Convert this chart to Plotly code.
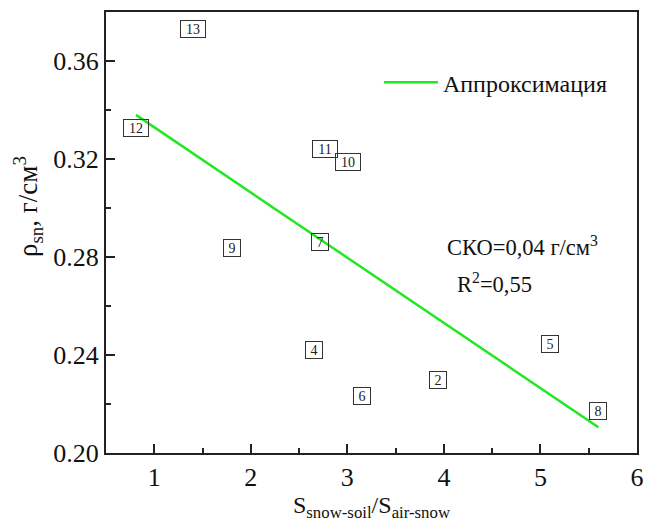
import plotly.graph_objects as go

# Data points (x = S_snow-soil/S_air-snow, y = rho_sn), labelled by number
point_labels = ["2", "4", "5", "6", "7", "8", "9", "10", "11", "12", "13"]
x_vals = [3.94, 2.65, 5.10, 3.15, 2.72, 5.60, 1.81, 3.01, 2.77, 0.81, 1.40]
y_vals = [0.2298, 0.2422, 0.2445, 0.2233, 0.2863, 0.2173, 0.2835, 0.3186, 0.3241, 0.3328, 0.3732]

# Linear approximation endpoints
fit_x = [0.81, 5.60]
fit_y = [0.338, 0.2105]

x_ticks = [1, 2, 3, 4, 5, 6]
y_ticks = [0.20, 0.24, 0.28, 0.32, 0.36]

FONT = "Liberation Serif"

fig = go.Figure()

fig.add_trace(go.Scatter(
    x=fit_x, y=fit_y, mode="lines",
    line=dict(color="#22e822", width=2.5),
    name="Аппроксимация", showlegend=True,
))

for lab, xv, yv in zip(point_labels, x_vals, y_vals):
    fig.add_annotation(
        x=xv, y=yv, xref="x", yref="y", text=lab, showarrow=False,
        font=dict(family=FONT, size=14, color="#222"),
        bordercolor="#333", borderwidth=1, borderpad=1,
        width=14 if len(lab) == 1 else 22, height=14, align="center",
        bgcolor="rgba(255,255,255,0)",
    )

fig.add_annotation(
    x=0.638, y=0.47, xref="paper", yref="paper", xanchor="left", yanchor="middle",
    text="СКО=0,04 г/см<sup>3</sup>", showarrow=False,
    font=dict(family=FONT, size=22.5, color="#111"),
)
fig.add_annotation(
    x=0.657, y=0.386, xref="paper", yref="paper", xanchor="left", yanchor="middle",
    text="R<sup>2</sup>=0,55", showarrow=False,
    font=dict(family=FONT, size=22.5, color="#111"),
)
# y-axis title
fig.add_annotation(
    x=-0.147, y=0.56, xref="paper", yref="paper", xanchor="center", yanchor="middle",
    text="ρ<sub>sn</sub>, г/см<sup>3</sup>", showarrow=False, textangle=-90,
    font=dict(family=FONT, size=27, color="#111"),
)

axis_common = dict(
    showline=True, linecolor="#222", linewidth=2, mirror=True,
    ticks="inside", ticklen=9, tickwidth=1.5, tickcolor="#222",
    showgrid=False, zeroline=False,
    tickfont=dict(family=FONT, size=26, color="#111"),
)

fig.update_xaxes(
    range=[0.5, 6], tickvals=x_ticks, ticktext=[str(v) for v in x_ticks],
    minor=dict(ticks="inside", ticklen=5, tickwidth=1.5, tickcolor="#222", dtick=0.5, tick0=0.5),
    title=dict(text="S<sub>snow-soil</sub>/S<sub>air-snow</sub>",
               font=dict(family=FONT, size=24, color="#111"), standoff=0),
    **axis_common,
)
fig.update_yaxes(
    range=[0.2, 0.38], tickvals=y_ticks, ticktext=[f"{v:.2f}" for v in y_ticks],
    minor=dict(ticks="inside", ticklen=5, tickwidth=1.5, tickcolor="#222", dtick=0.02, tick0=0.2),
    **axis_common,
)

fig.update_layout(
    width=638, height=518,
    margin=dict(l=98, r=9, t=2, b=73),
    paper_bgcolor="white", plot_bgcolor="white",
    font=dict(family=FONT, color="#111"),
    legend=dict(
        x=0.514, y=0.84, xanchor="left", yanchor="middle",
        bgcolor="rgba(0,0,0,0)", borderwidth=0, itemwidth=54,
        font=dict(family=FONT, size=24, color="#111"),
    ),
)

fig.write_html("out.html")
